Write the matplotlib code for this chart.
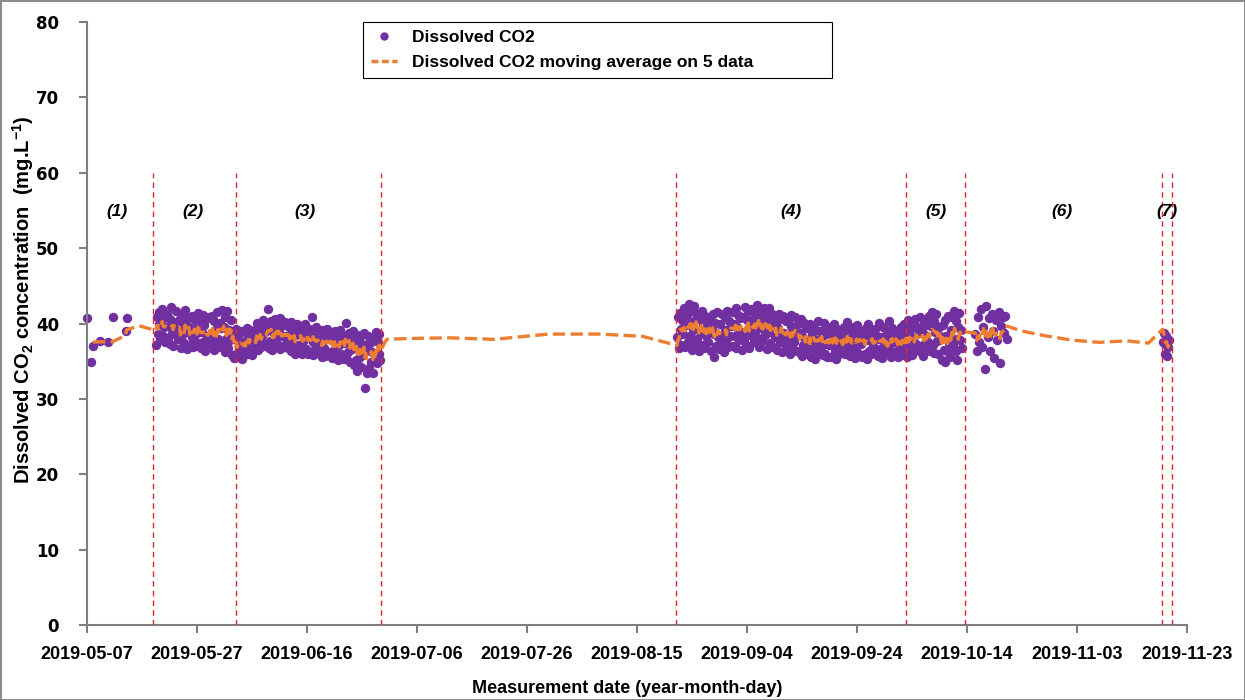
import numpy as np
import pandas as pd
import matplotlib
matplotlib.use('Agg')
import matplotlib.pyplot as plt
import matplotlib.dates as mdates
from matplotlib.lines import Line2D

plt.rcParams['mathtext.fontset'] = 'custom'
plt.rcParams['mathtext.rm'] = 'Liberation Sans'
plt.rcParams['mathtext.bf'] = 'Liberation Sans:bold'

# Phase (1): a handful of manual readings
dates_p1 = ['2019-05-07 00:00', '2019-05-07 16:00', '2019-05-08 02:00', '2019-05-09 10:00',
            '2019-05-10 19:00', '2019-05-11 17:00', '2019-05-14 00:00', '2019-05-14 05:00']
co2_p1 = [40.7, 34.9, 37.0, 37.7, 37.5, 40.9, 39.0, 40.7]

# Logged runs, one reading every 4 h (12 readings per row = 2 days)
start_a = '2019-05-19 12:00'
co2_a = [37.2, 40.8, 38.6, 41.5, 39.9, 37.8, 40.3, 41.9, 38.4, 39.6, 37.5, 40.9,
         41.2, 38.1, 39.7, 37.3, 40.6, 42.2, 38.8, 37.0, 40.1, 39.3, 41.7, 38.3,
         37.9, 40.4, 39.0, 36.8, 41.3, 38.5, 40.0, 37.4, 41.8, 38.9, 36.6, 40.7,
         39.5, 37.1, 40.8, 38.2, 41.0, 36.9, 39.3, 40.5, 37.6, 38.7, 41.4, 37.0,
         40.2, 36.7, 38.9, 41.1, 37.5, 39.8, 36.4, 40.6, 38.1, 37.3, 40.9, 38.5,
         37.8, 41.0, 38.4, 36.5, 40.3, 39.1, 37.2, 41.5, 38.0, 36.9, 40.1, 39.4,
         41.8, 37.4, 39.6, 36.2, 40.8, 38.0, 41.6, 36.7, 39.2, 37.8, 40.4, 35.8,
         38.6, 35.4, 37.9, 36.0, 39.3, 35.6, 38.2, 36.8, 37.1, 39.0, 35.3, 37.6,
         36.3, 38.9, 37.0, 39.4, 35.9, 38.2, 36.6, 39.1, 37.7, 35.8, 38.5, 36.9,
         39.2, 37.0, 40.1, 36.5, 38.7, 37.6, 39.8, 36.9, 38.3, 40.4, 37.3, 38.9,
         37.1, 39.9, 41.9, 36.8, 39.4, 37.7, 40.3, 36.5, 38.9, 37.4, 40.6, 38.0,
         40.0, 37.2, 39.1, 36.6, 40.7, 38.3, 37.0, 39.8, 36.9, 40.2, 38.4, 37.5,
         36.8, 39.5, 37.6, 40.2, 36.3, 38.8, 37.2, 39.6, 36.0, 38.5, 39.9, 37.1,
         38.9, 36.4, 39.7, 37.3, 36.0, 39.1, 37.8, 40.0, 36.6, 38.4, 35.9, 39.3,
         39.0, 36.2, 40.9, 37.5, 35.8, 38.7, 36.6, 39.5, 37.9, 36.1, 39.2, 37.0,
         37.6, 35.5, 39.1, 36.8, 38.6, 35.7, 37.9, 39.3, 36.2, 38.1, 35.9, 38.8,
         35.4, 38.2, 36.5, 39.0, 35.8, 37.6, 38.7, 35.2, 37.1, 39.2, 36.0, 38.3,
         38.5, 35.3, 37.4, 40.1, 35.6, 38.1, 36.2, 38.8, 34.9, 37.7, 36.6, 39.0,
         34.5, 37.8, 35.1, 38.5, 33.7, 36.9, 35.4, 38.3, 34.2, 37.3, 35.8, 38.7,
         31.5, 37.1, 33.5, 36.5, 38.4, 34.1, 37.4, 34.9, 36.2, 33.4, 38.2, 35.3,
         38.9, 34.7, 37.5, 36.0, 38.6, 35.2]

start_b = '2019-08-22 06:00'
co2_b = [38.2, 40.8, 36.7, 41.4, 39.3, 37.1, 40.5, 38.6, 42.0, 36.9, 39.8, 41.1,
         37.6, 42.6, 38.4, 40.2, 36.5, 41.7, 39.1, 42.3, 37.4, 40.6, 38.0, 41.3,
         36.4, 40.9, 38.7, 41.6, 37.2, 39.9, 36.8, 41.0, 38.3, 40.4, 37.6, 39.5,
         40.7, 36.3, 39.4, 41.3, 35.6, 38.6, 40.1, 37.0, 41.5, 38.2, 36.6, 40.0,
         37.3, 41.2, 38.5, 36.2, 40.8, 39.2, 37.7, 41.7, 36.9, 40.3, 38.4, 39.7,
         41.5, 37.0, 40.0, 38.3, 42.1, 36.7, 39.6, 41.1, 37.8, 40.7, 38.9, 36.5,
         40.9, 38.0, 42.2, 37.2, 40.4, 39.0, 41.6, 36.8, 39.7, 41.9, 38.3, 40.6,
         37.5, 41.4, 39.2, 42.4, 38.1, 40.9, 36.9, 41.8, 39.4, 37.7, 40.6, 42.0,
         38.5, 41.0, 36.6, 40.3, 38.9, 42.1, 37.4, 39.8, 41.3, 36.9, 40.5, 38.2,
         40.1, 36.5, 39.4, 41.2, 37.6, 40.6, 38.3, 36.2, 41.0, 38.8, 37.3, 40.3,
         37.0, 40.4, 38.1, 35.9, 39.7, 41.1, 36.8, 39.2, 37.5, 40.8, 38.4, 36.3,
         39.9, 36.2, 38.8, 40.6, 35.7, 38.3, 37.1, 40.1, 36.5, 39.4, 37.8, 35.9,
         37.4, 40.0, 35.6, 38.6, 36.9, 39.7, 37.9, 35.3, 39.2, 36.3, 40.3, 37.5,
         39.0, 36.4, 38.2, 35.8, 40.1, 37.3, 36.0, 38.9, 35.5, 39.6, 37.1, 38.5,
         35.6, 38.8, 37.0, 40.0, 36.2, 38.4, 35.3, 39.3, 37.6, 36.0, 38.9, 36.7,
         38.1, 36.3, 39.5, 35.9, 38.7, 37.2, 40.2, 36.5, 38.3, 35.7, 39.1, 37.4,
         36.8, 39.6, 35.4, 38.1, 39.8, 36.2, 38.6, 35.8, 39.0, 37.3, 35.5, 38.5,
         38.9, 36.0, 39.4, 35.3, 37.8, 40.0, 36.4, 38.6, 35.9, 39.1, 37.0, 36.3,
         39.3, 36.1, 38.4, 35.7, 37.9, 40.1, 36.6, 38.2, 35.4, 39.5, 37.2, 36.0,
         35.9, 38.8, 37.0, 40.3, 36.5, 38.1, 35.6, 39.4, 37.5, 36.2, 39.0, 37.8,
         37.4, 35.5, 38.6, 36.7, 39.6, 35.8, 38.3, 37.1, 40.0, 36.0, 38.9, 35.6,
         40.4, 36.9, 39.2, 37.6, 35.8, 39.9, 38.1, 36.4, 40.6, 37.3, 39.5, 36.6,
         38.7, 40.8, 36.2, 39.4, 37.1, 35.7, 40.2, 38.5, 36.7, 39.8, 37.5, 41.0,
         36.4, 39.7, 41.5, 37.2, 40.3, 36.1, 38.9, 41.2, 37.7, 35.9, 39.6, 38.3,
         37.9, 35.1, 39.8, 36.5, 40.5, 34.9, 38.4, 36.3, 41.0, 37.4, 35.5, 39.2,
         40.9, 37.1, 41.7, 38.0, 36.4, 40.3, 35.2, 39.6, 41.4, 37.8, 39.1, 36.8]

start_c = '2019-10-15 12:00'
co2_c = [38.6, 36.4, 40.8, 37.5, 41.9, 36.9, 39.6, 34.0,
         42.3, 38.2, 40.7, 36.3, 41.2, 39.0, 35.4, 40.4,
         37.8, 41.5, 34.8, 39.7, 40.9, 38.8, 41.0, 37.9]

start_d = '2019-11-18 14:00'
co2_d = [37.6, 38.7, 36.0, 37.3, 38.4, 35.7, 36.9, 37.8]

# Moving average joins over the periods without readings
bridge_dates = ['2019-05-16 12:00', '2019-06-30 12:00', '2019-07-04 00:00', '2019-07-12 00:00',
                '2019-07-20 00:00', '2019-07-30 00:00', '2019-08-08 00:00', '2019-08-16 00:00',
                '2019-10-24 00:00', '2019-10-28 00:00', '2019-11-02 00:00', '2019-11-07 00:00',
                '2019-11-12 00:00', '2019-11-16 00:00']
bridge_values = [39.7, 37.9, 38.0, 38.1, 37.9, 38.6, 38.6, 38.3,
                 39.0, 38.4, 37.8, 37.5, 37.7, 37.4]

# Phase limits and labels
phase_limits = ['2019-05-19 00:00', '2019-06-03 00:00', '2019-06-29 12:00', '2019-08-22 02:00',
                '2019-10-02 22:00', '2019-10-13 14:00', '2019-11-18 10:00', '2019-11-20 06:00']
phase_labels = ['(1)', '(2)', '(3)', '(4)', '(5)', '(6)', '(7)']
phase_label_dates = ['2019-05-12 12:00', '2019-05-26 06:00', '2019-06-15 15:00', '2019-09-12 00:00',
                     '2019-10-08 10:00', '2019-10-31 06:00', '2019-11-19 10:00']

purple = '#7030A0'
orange = '#ED7D31'

s1 = pd.Series(co2_p1, index=pd.to_datetime(dates_p1))
sa = pd.Series(co2_a, index=pd.date_range(start_a, periods=len(co2_a), freq='4h'))
sb = pd.Series(co2_b, index=pd.date_range(start_b, periods=len(co2_b), freq='4h'))
sc = pd.Series(co2_c, index=pd.date_range(start_c, periods=len(co2_c), freq='6h'))
sd = pd.Series(co2_d, index=pd.date_range(start_d, periods=len(co2_d), freq='4h'))
co2 = pd.concat([s1, sa, sb, sc, sd]).sort_index()

ma = co2.rolling(5, min_periods=3).mean().dropna()
bridge = pd.Series(bridge_values, index=pd.to_datetime(bridge_dates))
ma_line = pd.concat([ma, bridge]).sort_index()

fig = plt.figure(figsize=(12.45, 7), dpi=100, edgecolor='#8c8c8c', linewidth=2)
ax = fig.add_axes([0.0699, 0.1071, 0.8835, 0.8615])

ax.scatter(co2.index, co2.values, s=46, color=purple, lw=0, zorder=2, clip_on=False)
for d in phase_limits:
    ax.plot([pd.Timestamp(d)] * 2, [0, 60], color='#E8262A', lw=1.0,
            linestyle=(0, (4, 3)), zorder=3)
ax.plot(ma_line.index, ma_line.values, color=orange, lw=2.4, linestyle='--', zorder=4)

for lab, d in zip(phase_labels, phase_label_dates):
    ax.text(pd.Timestamp(d), 54.8, lab, ha='center', va='center', fontsize=12.5,
            fontweight='bold', fontstyle='italic', family='Liberation Sans')

ax.set_xlim(pd.Timestamp('2019-05-07'), pd.Timestamp('2019-11-23'))
ax.set_ylim(0, 80)
ax.set_yticks(np.arange(0, 81, 10))
ax.set_xticks(pd.date_range('2019-05-07', '2019-11-23', freq='20D'))
ax.xaxis.set_major_formatter(mdates.DateFormatter('%Y-%m-%d'))

for side in ['top', 'right']:
    ax.spines[side].set_visible(False)
for side in ['left', 'bottom']:
    ax.spines[side].set_color('#7f7f7f')
    ax.spines[side].set_linewidth(1.5)
ax.tick_params(direction='out', length=6, width=1.5, color='#7f7f7f')
ax.tick_params(axis='x', pad=9)
ax.tick_params(axis='y', pad=14)
for t in ax.get_yticklabels():
    t.set_fontfamily('DejaVu Sans')
    t.set_fontweight('bold')
    t.set_fontsize(12)
for t in ax.get_xticklabels():
    t.set_fontfamily('Liberation Sans')
    t.set_fontweight('bold')
    t.set_fontsize(13)

ax.set_xlabel('Measurement date (year-month-day)', fontsize=13, fontweight='bold',
              family='Liberation Sans')
ax.xaxis.set_label_coords(0.491, -0.091)
ax.set_ylabel(r'Dissolved CO$_\mathbf{2}$ concentration  (mg.L$^\mathbf{-1}$)', fontsize=14.5,
              fontweight='bold', family='Liberation Sans')
ax.yaxis.set_label_coords(-0.046, 0.54)

handles = [Line2D([], [], color=purple, marker='o', markersize=5, lw=0),
           Line2D([], [], color=orange, lw=2.5, linestyle=(0, (2, 1)))]
leg = ax.legend(handles, ['Dissolved CO2', 'Dissolved CO2 moving average on 5 data'],
                loc='upper left', bbox_to_anchor=(0.2509, 1.0, 0.4264, 0), mode='expand',
                borderaxespad=0, fancybox=False, framealpha=1, edgecolor='black',
                borderpad=0.44, handlelength=1.5, handletextpad=0.9, labelspacing=0.6,
                prop={'family': 'Liberation Sans', 'weight': 'bold', 'size': 12.5})
leg.get_frame().set_linewidth(0.8)

plt.savefig('out.png', dpi=100, edgecolor=fig.get_edgecolor())
